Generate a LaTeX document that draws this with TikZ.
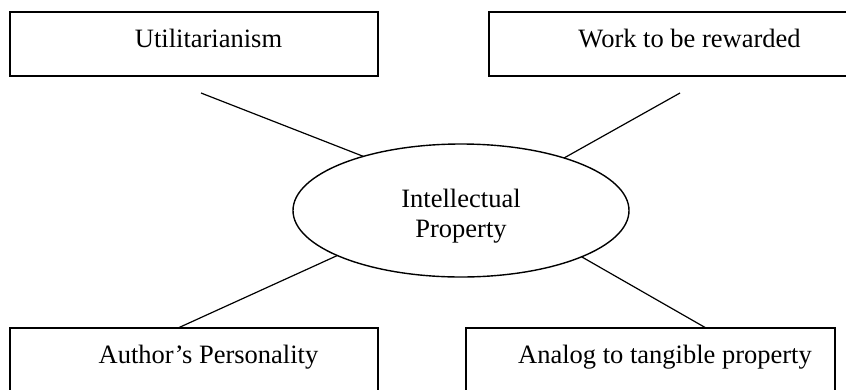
\documentclass[tikz,border=0pt]{standalone}
\usepackage{fontspec}
\setmainfont{Liberation Serif}
\usetikzlibrary{shapes.geometric}
\begin{document}
\begin{tikzpicture}[x=1pt,y=-1pt,
  box/.style={draw=black,line width=1.8pt,rectangle,inner sep=0pt,outer sep=0pt,anchor=north west},
  lbl/.style={inner sep=0pt,anchor=base,font=\fontsize{26.5}{30}\selectfont},
  conn/.style={draw=black,line width=1.2pt},
  ellip/.style={draw=black,line width=1.4pt,ellipse,inner sep=0pt,outer sep=0pt,minimum width=336pt,minimum height=133pt}]
\useasboundingbox (0,0) rectangle (846,389);
\clip (0,0) rectangle (846,389);
% boxes
\node[box,minimum width=368pt,minimum height=64pt] (tlbox) at (9.7,11.7) {};
\node[box,minimum width=365pt,minimum height=64pt] (trbox) at (489,11.7) {};
\node[box,minimum width=368pt,minimum height=75pt] (blbox) at (9.7,328) {};
\node[box,minimum width=369pt,minimum height=75pt] (brbox) at (466,328) {};
% labels
\node[lbl] (tltxt) at (208.5,47) {Utilitarianism};
\node[lbl] (trtxt) at (689.5,47) {Work to be rewarded};
\node[lbl] (bltxt) at (208.5,363) {Author’s Personality};
\node[lbl] (brtxt) at (665,363) {Analog to tangible property};
% central ellipse
\node[ellip] (ip) at (461,210.5) {};
\node[lbl] (iptxt1) at (461,207) {Intellectual};
\node[lbl] (iptxt2) at (461,237) {Property};
% free ends
\coordinate (tlend) at (201,93);
\coordinate (trend) at (680,93);
\coordinate (blend) at (178,328);
\coordinate (brend) at (706,328);
% connectors
\draw[conn] (tlend) -- (ip.151.3);
\draw[conn] (trend) -- (ip.27.7);
\draw[conn] (blend) -- (ip.200.7);
\draw[conn] (brend) -- (ip.339.5);
\end{tikzpicture}
\end{document}
